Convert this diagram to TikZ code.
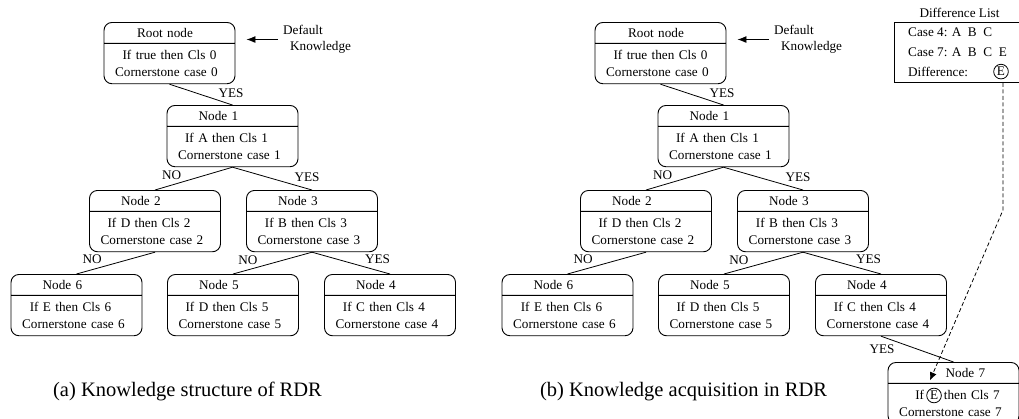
\documentclass[tikz,border=0pt]{standalone}
\usepackage{fontspec}
\setmainfont{Liberation Serif}
\usetikzlibrary{shapes.multipart,arrows.meta}

% header and body text of a rule box
\newcommand{\ttl}[2][-28pt]{\rule[-5pt]{0pt}{20pt}\hspace*{#1}#2}
\newcommand{\bdy}[3][-12pt]{\rule{0pt}{16pt}\hspace*{#1}#2\\\hspace*{-6pt}#3\rule[-7pt]{0pt}{7pt}}
\newcommand{\circE}{\tikz[baseline=(ce.base)]\node[draw, circle, inner sep=1pt, line width=0.8pt,
  text width=, align=center, anchor=center, rounded corners=0pt] (ce) {E};}

\begin{document}
\begin{tikzpicture}[
    x=1pt, y=-1pt,
    font=\fontsize{13.2}{16.5}\selectfont,
    rdr/.style={rectangle split, rectangle split parts=2, draw, rounded corners=8pt,
                line width=0.9pt, text width=131pt, align=center,
                inner xsep=0pt, inner ysep=0pt, anchor=north},
    link/.style={draw, line width=0.8pt},
    lbl/.style={inner sep=2pt},
    circ/.style={draw, circle, inner sep=1pt, line width=0.8pt},
    txt/.style={inner sep=0pt, anchor=base west},
    caption/.style={font=\fontsize{20.5}{24}\selectfont, anchor=base},
    pointer/.style={line width=0.9pt, -{Latex[length=9pt,width=7pt]}},
    diff/.style={line width=0.8pt, dash pattern=on 4pt off 2.5pt, -{Latex[length=8pt,width=7pt]}},
  ]
  \useasboundingbox (0,0) rectangle (1019,418);

  % (a) knowledge structure
  \node[rdr] (a0) at (169.5,22) {\ttl[-9pt]{Root node}\nodepart{two}\bdy[0pt]{If true then Cls 0}{Cornerstone case 0}};
  \node[rdr] (a1) at (232.5,105) {\ttl{Node 1}\nodepart{two}\bdy{If A then Cls 1}{Cornerstone case 1}};
  \node[rdr] (a2) at (155,190) {\ttl{Node 2}\nodepart{two}\bdy{If D then Cls 2}{Cornerstone case 2}};
  \node[rdr] (a3) at (312,190) {\ttl{Node 3}\nodepart{two}\bdy{If B then Cls 3}{Cornerstone case 3}};
  \node[rdr] (a6) at (76.5,274) {\ttl{Node 6}\nodepart{two}\bdy{If E then Cls 6}{Cornerstone case 6}};
  \node[rdr] (a5) at (233,274) {\ttl{Node 5}\nodepart{two}\bdy{If D then Cls 5}{Cornerstone case 5}};
  \node[rdr] (a4) at (390,274) {\ttl{Node 4}\nodepart{two}\bdy{If C then Cls 4}{Cornerstone case 4}};
  \draw[link] (a0.south) -- node[lbl, pos=0.74, anchor=south west] (ay1) {YES} (a1.north);
  \draw[link] (a1.south) -- node[lbl, pos=0.63, anchor=south east] (an2) {NO} (a2.north);
  \draw[link] (a1.south) -- node[lbl, pos=0.75, anchor=south west] (ay3) {YES} (a3.north);
  \draw[link] (a2.south) -- node[lbl, pos=0.65, anchor=south east] (an6) {NO} (a6.north);
  \draw[link] (a3.south) -- node[lbl, pos=0.66, anchor=south east] (an5) {NO} (a5.north);
  \draw[link] (a3.south) -- node[lbl, pos=0.65, anchor=south west] (ay4) {YES} (a4.north);
  \node[inner sep=0pt, anchor=north west, align=left] (adk) at (283,25) {Default\\\hspace*{7pt}Knowledge};
  \draw[pointer] ([xshift=-5pt]adk.west) -- ([xshift=11pt]adk.west -| a0.east);
  \node[caption] (capa) at (187.5,396) {(a) Knowledge structure of RDR};

  % (b) knowledge acquisition
  \begin{scope}[xshift=491pt]
    \node[rdr] (b0) at (169.5,22) {\ttl[-9pt]{Root node}\nodepart{two}\bdy[0pt]{If true then Cls 0}{Cornerstone case 0}};
    \node[rdr] (b1) at (232.5,105) {\ttl{Node 1}\nodepart{two}\bdy{If A then Cls 1}{Cornerstone case 1}};
    \node[rdr] (b2) at (155,190) {\ttl{Node 2}\nodepart{two}\bdy{If D then Cls 2}{Cornerstone case 2}};
    \node[rdr] (b3) at (312,190) {\ttl{Node 3}\nodepart{two}\bdy{If B then Cls 3}{Cornerstone case 3}};
    \node[rdr] (b6) at (76.5,274) {\ttl{Node 6}\nodepart{two}\bdy{If E then Cls 6}{Cornerstone case 6}};
    \node[rdr] (b5) at (233,274) {\ttl{Node 5}\nodepart{two}\bdy{If D then Cls 5}{Cornerstone case 5}};
    \node[rdr] (b4) at (390,274) {\ttl{Node 4}\nodepart{two}\bdy{If C then Cls 4}{Cornerstone case 4}};
    \node[rdr] (b7) at (462.5,362) {\ttl[24pt]{Node 7}\nodepart{two}\bdy[8pt]{If\,\circE\,then Cls 7}{Cornerstone case 7}};
    \draw[link] (b0.south) -- node[lbl, pos=0.74, anchor=south west] (by1) {YES} (b1.north);
    \draw[link] (b1.south) -- node[lbl, pos=0.63, anchor=south east] (bn2) {NO} (b2.north);
    \draw[link] (b1.south) -- node[lbl, pos=0.75, anchor=south west] (by3) {YES} (b3.north);
    \draw[link] (b2.south) -- node[lbl, pos=0.65, anchor=south east] (bn6) {NO} (b6.north);
    \draw[link] (b3.south) -- node[lbl, pos=0.66, anchor=south east] (bn5) {NO} (b5.north);
    \draw[link] (b3.south) -- node[lbl, pos=0.65, anchor=south west] (by4) {YES} (b4.north);
    \draw[link] (b4.south) -- node[lbl, pos=0.22, anchor=north east] (by7) {YES} (b7.north);
    \node[inner sep=0pt, anchor=north west, align=left] (bdk) at (283,25) {Default\\\hspace*{7pt}Knowledge};
    \draw[pointer] ([xshift=-5pt]bdk.west) -- ([xshift=11pt]bdk.west -| b0.east);
  \end{scope}
  \node[caption] (capb) at (683.5,396) {(b) Knowledge acquisition in RDR};

  % difference list
  \node[anchor=base] (dlt) at (959.5,17) {Difference List};
  \node[draw, line width=0.9pt, minimum width=126pt, minimum height=60pt, inner sep=0pt,
        anchor=north west] (dl) at (894,22) {};
  \node[txt] (c4) at (908,36) {Case 4: A\ \ B\ \ C};
  \node[txt] (c7) at (908,56.5) {Case 7: A\ \ B\ \ C\ \ E};
  \node[txt] (df) at (908,76) {Difference:};
  \node[circ] (dE) at (1001,71.6) {E};
  \coordinate (bend) at (1003,210);
  \coordinate (tip) at ([xshift=-23.5pt,yshift=3pt]b7.text split);
  \draw[diff] (bend |- dl.south) -- (bend) -- (tip);
\end{tikzpicture}
\end{document}
